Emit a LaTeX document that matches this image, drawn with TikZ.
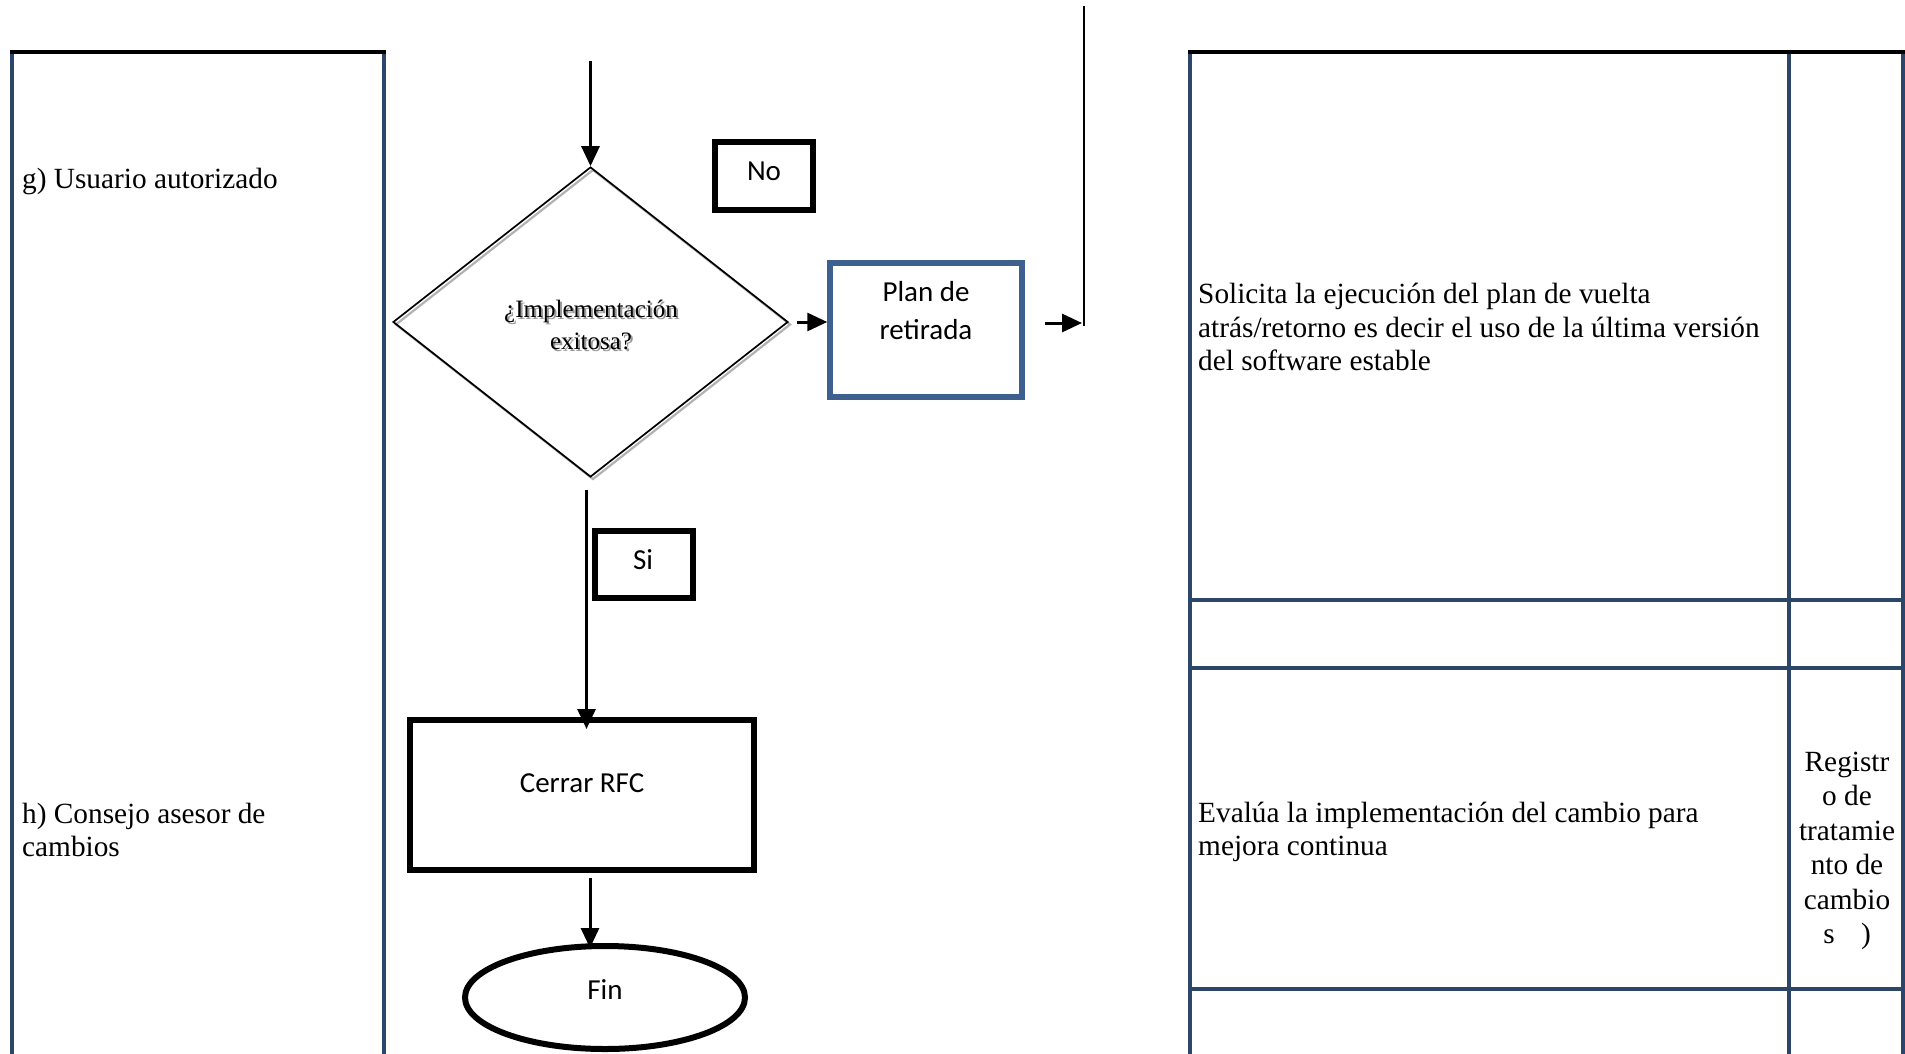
\documentclass[tikz,border=0pt]{standalone}
\usepackage{fontspec}
\setmainfont{Liberation Serif}
\newfontfamily\calib{Carlito}
\usetikzlibrary{shapes.geometric,arrows.meta}
\definecolor{laneblue}{RGB}{44,70,106}
\definecolor{planblue}{RGB}{61,96,143}

\begin{document}
\begin{tikzpicture}[x=1pt,y=-1pt,
  lane/.style={draw=laneblue,line width=3.5pt},
  lanetop/.style={draw=black,line width=3.5pt},
  celltext/.style={inner sep=0pt,align=left,font=\fontsize{29.3}{33.5}\selectfont},
  regtext/.style={inner sep=0pt,align=center,font=\fontsize{29.3}{34.5}\selectfont},
  dtext/.style={inner sep=0pt,align=center,font=\fontsize{25}{32}\selectfont},
  boxthick/.style={draw=black,line width=6pt,rectangle,inner sep=0pt},
  flowtext/.style={inner sep=0pt,align=center,font=\calib\fontsize{29}{38}\selectfont},
  arr/.style={-{Triangle[length=20pt,width=18pt]},line width=3pt,draw=black},
]
\useasboundingbox (0,0) rectangle (1905,1054);
\fill[white] (0,0) rectangle (1905,1054);

% left lane: actor column
\draw[lane] (12,52) -- (12,1054);
\draw[lane] (384,52) -- (384,1054);
\draw[lanetop] (10.25,52) -- (385.75,52);
\node[celltext,anchor=west] (actg) at (22,181) {g) Usuario autorizado};
\node[celltext,anchor=west] (acth) at (22,830) {h) Consejo asesor de\\cambios};

% right lane: description and record columns
\draw[lane] (1190,52) -- (1190,1054);
\draw[lane] (1789,52) -- (1789,1054);
\draw[lane] (1903,52) -- (1903,1054);
\draw[lane] (1190,600) -- (1903,600);
\draw[lane] (1190,668) -- (1903,668);
\draw[lane] (1190,989) -- (1903,989);
\draw[lanetop] (1188.25,52) -- (1904.75,52);
\node[celltext,anchor=west] (descg) at (1198,327)
  {Solicita la ejecución del plan de vuelta\\atrás/retorno es decir el uso de la última versión\\del software estable};
\node[celltext,anchor=west] (desch) at (1198,832)
  {Evalúa la implementación del cambio para\\mejora continua};
\node[regtext] (regh) at (1847,851)
  {Registr\\o de\\tratamie\\nto de\\cambio\\s\hspace{0.9em})};

% decision
\coordinate (inTop) at (590.5,61);
\node[diamond,minimum width=395pt,minimum height=310pt,inner sep=0pt,
      draw=black!30,line width=2.2pt] (decshadow) at (593,324.5) {};
\node[diamond,minimum width=395pt,minimum height=310pt,inner sep=0pt,
      draw=black,line width=1.7pt] (dec) at (590.5,322) {};
\node[dtext,text=black!40] (dectextshadow) at (593,327) {¿Implementación\\exitosa?};
\node[dtext] (dectext) at (591,324.5) {¿Implementación\\exitosa?};

% branch labels
\node[boxthick,minimum width=98pt,minimum height=68pt] (nobox) at (764,176) {};
\node[flowtext] (notext) at (764,171) {No};
\node[boxthick,minimum width=98pt,minimum height=67pt] (sibox) at (644,564.5) {};
\node[flowtext] (sitext) at (643,560) {Si};

% process boxes
\node[rectangle,draw=planblue,line width=5.5pt,inner sep=0pt,
      minimum width=192pt,minimum height=134pt] (plan) at (926,330) {};
\node[flowtext] (plantext) at (926,311) {Plan de\\retirada};
\node[boxthick,minimum width=344pt,minimum height=150pt] (cerrar) at (582,795) {};
\node[flowtext] (cerrartext) at (582,783) {Cerrar RFC};
\node[ellipse,draw=black,line width=6pt,inner sep=0pt,
      minimum width=280pt,minimum height=103pt] (fin) at (605,997.5) {};
\node[flowtext] (fintext) at (605,990) {Fin};

% connectors
\draw[arr] (inTop) -- (dec.north);
\draw[arr,shorten <=8pt] (dec.east) -- (dec.east -| plan.west);
\coordinate (retLine) at (1084,323);
\coordinate (retTop) at (1084,6);
\coordinate (retBot) at (1084,326);
\draw[arr,shorten <=20pt] ([yshift=7pt]plan.east) -- ([xshift=-2pt]retLine);
\draw[line width=2.2pt] (retTop) -- (retBot);
\draw[arr] ([shift={(-4,12)}]dec.south) -- ([shift={(-4,12)}]dec.south |- cerrar.north);
\draw[arr] ([shift={(8,5)}]cerrar.south) -- ([shift={(8,5)}]cerrar.south |- fin.north);
\end{tikzpicture}
\end{document}
